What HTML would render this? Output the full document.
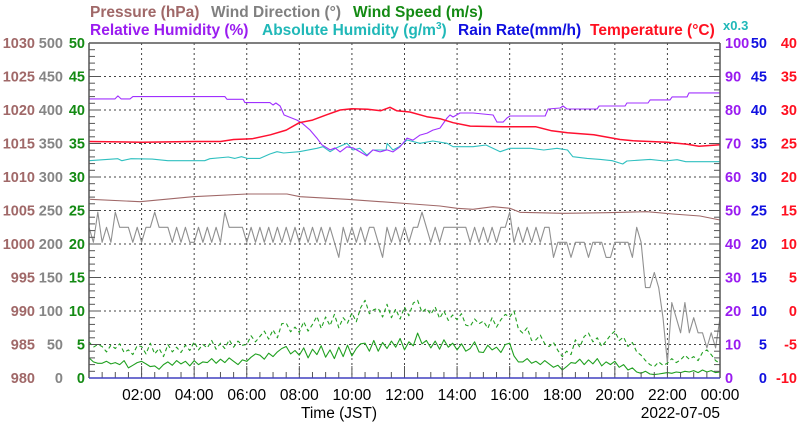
<!DOCTYPE html>
<html><head><meta charset="utf-8">
<style>
html,body{margin:0;padding:0;background:#fff;}
svg{display:block;font-family:"Liberation Sans",Arial,sans-serif;}
</style></head>
<body>
<svg id="chart" width="800" height="434" viewBox="0 0 800 434" xmlns="http://www.w3.org/2000/svg">
<g font-weight="bold" font-size="15.5">
<text x="90" y="17" fill="#a06868">Pressure (hPa)</text>
<text x="211" y="17" fill="#808080">Wind Direction (°)</text>
<text x="353" y="17" fill="#138a13">Wind Speed (m/s)</text>
<text x="90" y="35" fill="#9a1cf0">Relative Humidity (%)</text>
<text x="262" y="35" fill="#20b8b8">Absolute Humidity (g/m<tspan font-size="10" dy="-6">3</tspan><tspan dy="6">)</tspan></text>
<text x="458" y="35" fill="#1010e0">Rain Rate(mm/h)</text>
<text x="590" y="35" fill="#ff1020">Temperature (°C)</text>
<text x="723" y="30" fill="#20b8b8" font-size="13">x0.3</text>
</g>
<g id="grid"></g>
<g id="series"></g>
<g id="axes"></g>
<text x="339" y="418" font-size="15.5" text-anchor="middle" fill="#000">Time (JST)</text>
<text x="720" y="418" font-size="15.5" text-anchor="end" fill="#000">2022-07-05</text>
</svg>
<script>
// ---- data ----
const hours = [0,2,4,6,8,10,12,14,16,18,20,22,24];
const tickLabels = ["","02:00","04:00","06:00","08:00","10:00","12:00","14:00","16:00","18:00","20:00","22:00","00:00"];
const pressureTicks = [980,985,990,995,1000,1005,1010,1015,1020,1025,1030];
const dirTicks = [0,50,100,150,200,250,300,350,400,450,500];
const speedTicks = [0,5,10,15,20,25,30,35,40,45,50];
const rhTicks = [0,10,20,30,40,50,60,70,80,90,100];
const rainTicks = [0,5,10,15,20,25,30,35,40,45,50];
const tempTicks = [-10,-5,0,5,10,15,20,25,30,35,40];

const pressureT = [0.04,1.94,3.96,6.01,7.53,8.03,9.81,12.32,13.35,14.0,14.6,15.37,16.01,16.39,18.03,19.7,21.22,22.21,23.24,24];
const pressureV = [1006.67,1006.31,1007.06,1007.46,1007.46,1007.06,1006.67,1005.97,1005.67,1005.33,1005.18,1005.57,1005.33,1004.73,1004.58,1004.67,1004.82,1004.48,1004.18,1003.58];

const rhT = [0,0.99,1.1,1.22,1.56,1.67,5.17,5.25,5.86,5.93,6.88,7.0,7.11,7.27,7.42,7.91,8.1,8.41,8.67,8.86,9.17,9.36,9.55,9.81,10.04,10.31,10.57,10.8,11.07,11.34,11.56,11.83,12.1,12.32,12.59,12.86,13.08,13.35,13.62,13.73,13.85,14.11,14.61,15.37,15.52,15.75,15.9,16.01,17.35,17.46,17.92,18.03,18.18,19.32,19.4,20.39,20.46,21.26,21.34,22.1,22.18,22.75,22.82,24];
const rhV = [83.3,83.3,84.2,83.3,83.3,84.0,84.0,83.2,83.2,82.2,82.2,81.5,82.1,81.2,78.5,77.0,76.1,74.0,71.6,69.6,68.1,68.7,67.5,69.0,68.7,67.5,66.3,68.1,67.5,68.1,67.5,69.0,71.6,71.0,72.5,73.1,74.0,74.6,77.6,78.5,77.9,79.1,79.1,78.5,76.4,76.4,77.6,78.2,78.2,80.3,80.6,81.2,80.3,80.3,81.2,81.2,82.1,82.1,83.0,83.0,83.9,83.9,85.1,85.1];

const ahT = [0,1.1,1.25,1.6,2.4,3.0,4.4,4.6,5.3,5.55,5.8,6.02,6.5,6.88,7.15,7.4,8.0,8.67,8.9,9.17,9.4,9.81,10.04,10.3,10.57,10.8,11.3,11.34,11.56,11.8,12.1,12.59,13.08,13.62,13.85,14.61,15.1,15.64,16.01,16.8,17.3,17.8,18.2,18.4,18.95,19.45,19.9,20.3,20.46,21.34,21.9,22.37,22.7,24];
const ahV = [19.46,19.64,19.46,19.64,19.6,19.46,19.46,19.64,19.79,19.67,19.82,19.67,19.67,20.06,20.27,20.15,20.27,20.57,20.71,20.27,20.6,21.02,20.42,20.57,19.97,20.42,20.42,21.02,20.42,20.71,21.31,21.02,21.22,21.02,20.71,20.71,20.87,20.27,20.57,20.57,20.42,20.57,20.42,19.82,19.67,19.58,19.46,19.16,19.43,19.58,19.43,19.55,19.37,19.37];

const tempT = [0,2,4,5,5.5,6.2,6.9,7.5,8,8.5,9.05,9.55,10,10.6,11.1,11.45,11.7,12.2,12.85,13.35,13.85,14.5,15.75,17,17.6,18.2,19.2,20.2,20.7,22,22.75,23.2,24];
const tempV = [25.3,25.2,25.3,25.3,25.6,25.7,26.3,27.0,28.1,28.5,29.3,30.0,30.2,30.1,29.9,30.4,29.9,29.7,29.0,28.7,28.1,27.6,27.5,27.5,26.9,26.6,26.3,25.6,25.4,25.2,24.9,24.6,24.8];

// wind direction every 10 minutes
const windDir = [225,202.5,247.5,202.5,225,202.5,247.5,225,225,225,202.5,225,202.5,225,225,247.5,225,225,
225,202.5,225,202.5,225,202.5,202.5,225,202.5,225,202.5,225,202.5,247.5,225,225,225,225,
202.5,225,202.5,225,202.5,225,202.5,225,202.5,225,202.5,225,202.5,225,202.5,225,202.5,225,
202.5,225,202.5,180,225,202.5,225,202.5,225,202.5,225,225,202.5,180,225,202.5,225,202.5,
225,202.5,225,225,247.5,225,202.5,225,202.5,225,225,225,225,225,225,202.5,225,202.5,
225,202.5,225,202.5,225,225,247.5,202.5,225,202.5,225,202.5,225,202.5,225,225,180,202.5,
202.5,202.5,180,202.5,202.5,202.5,180,202.5,202.5,202.5,180,180,202.5,202.5,202.5,202.5,180,225,
202.5,135,135,157.5,135,90,22.5,112.5,90,67.5,112.5,67.5,90,67.5,67.5,45,67.5,45,90];

// wind speed every 10 minutes (m/s)
const windAvg = [3.0,2.4,2.2, 2.2,2.5,2.1, 2.3,2.0,2.6, 1.5,1.9,2.3, 2.5,2.1,1.7, 1.8,1.3,2.0,
2.4,1.9,2.6, 2.1,2.5,1.8, 2.6,2.0,2.4, 2.3,2.9,2.2, 2.8,2.3,3.0, 2.5,2.0,2.7,
2.5,3.1,3.6, 3.4,2.8,3.7, 3.2,3.9,4.4, 4.7,3.6,4.1, 3.4,4.5,3.0, 4.3,3.5,4.8,
3.1,4.2,2.9, 4.6,3.2,4.9, 3.3,4.4,5.1, 5.2,4.0,5.6, 4.0,5.3,4.4, 5.5,4.6,5.9,
4.2,5.4,4.8, 6.7,5.1,5.6, 4.5,5.5,4.3, 5.7,4.6,5.2, 4.2,5.1,4.0, 4.4,5.4,3.9,
3.8,4.9,4.2, 4.6,3.8,5.0, 5.2,3.3,2.4, 2.4,2.9,2.2, 2.5,2.0,2.6, 2.1,1.6,1.9,
1.2,1.7,2.3, 2.2,2.8,2.0, 2.7,2.1,2.9, 1.8,2.4,2.0, 2.5,1.6,2.0, 1.2,1.5,0.9,
0.7,1.0,0.6, 0.5,0.6,0.7, 0.8,0.7,0.9, 0.8,1.0,0.9, 1.1,0.8,1.2, 0.9,1.1,0.8, 0.9];
const windGust = [5.4,4.6,5.0, 4.7,3.9,4.9, 4.4,5.1,3.8, 4.2,3.5,4.8, 4.7,3.6,5.2, 3.6,4.4,3.2,
5.0,3.9,4.6, 3.8,4.9,4.1, 5.4,4.2,5.0, 4.5,5.6,4.3, 5.2,4.4,5.7, 4.6,5.5,4.9,
5.0,6.3,5.4, 6.2,7.0,5.8, 7.2,6.0,8.1, 8.2,6.9,7.6, 6.8,8.4,7.0, 8.0,9.2,7.4,
9.1,7.8,9.5, 7.5,9.0,8.2, 9.7,8.4,10.5, 11.6,9.6,10.2, 10.4,9.1,11.0, 9.0,10.3,8.8,
10.6,9.3,11.2, 11.6,9.8,10.4, 9.5,10.6,8.9, 10.0,8.6,9.4, 8.7,9.6,7.9, 7.7,8.8,8.1,
8.5,7.4,9.0, 7.6,8.7,9.5, 9.1,10.0,7.3, 6.7,7.5,5.6, 5.7,6.4,5.1, 4.7,5.3,4.1,
3.2,4.0,3.5, 5.7,4.6,6.2, 6.7,5.4,6.0, 4.7,5.5,6.4, 7.0,5.6,6.1, 4.7,5.3,3.9,
3.4,2.6,2.0, 1.7,2.4,1.9, 2.2,2.9,2.3, 2.7,3.4,2.8, 3.2,2.6,3.8, 4.2,3.5,2.6, 2.2];
const rainT = [0,24];
const rainV = [0,0];

// ---- layout ----
const X0=89, X1=720, Y0=378, Y1=43;
const NS="http://www.w3.org/2000/svg";
const xs = h => X0 + (X1-X0)*h/24;
const yUnit = u => Y0 - (Y0-Y1)*u/50;
const yP = v => yUnit(v-980);
const yDir = v => yUnit(v/10);
const yWs = v => yUnit(v);
const yRH = v => yUnit(v/2);
const yAH = v => yRH(v/0.3);
const yRain = v => yUnit(v);
const yT = v => yUnit(v+10);

function mk(tag, attrs, parent){
  const e=document.createElementNS(NS,tag);
  for(const k in attrs) e.setAttribute(k,attrs[k]);
  parent.appendChild(e); return e;
}
const grid=document.getElementById('grid'), ser=document.getElementById('series'), ax=document.getElementById('axes');

for(let i=1;i<10;i++){
  const y=yUnit(i*5);
  const l=mk('line',{x1:X0,x2:X1,y1:y,y2:y,stroke:'#444','stroke-width':1,'stroke-dasharray':'2,3'},grid);
  
  
}
hours.forEach(h=>{
  if(h===0||h===24) return;
  const x=xs(h);
  const l=mk('line',{x1:x,x2:x,y1:Y1,y2:Y0,stroke:'#444','stroke-width':1,'stroke-dasharray':'2,3'},grid);
  
  
});

function line(ts, vs, yf, color, name, extra){
  const pts=ts.map((t,i)=>xs(t).toFixed(1)+','+yf(vs[i]).toFixed(1)).join(' ');
  const p=mk('polyline',Object.assign({points:pts,fill:'none',stroke:color,'stroke-width':1.1,'stroke-linejoin':'round'},extra||{}),ser);
  
  
}
const t10 = windDir.map((_,i)=>i/6);
const tw = windAvg.map((_,i)=>i/6);
const tg = windGust.map((_,i)=>i/6);
line(pressureT, pressureV, yP, '#a06868', 'pressure-line');
line(t10, windDir, yDir, '#909090', 'wind-direction-line');
line(tg, windGust, yWs, '#20a020', 'wind-gust-line', {'stroke-dasharray':'4,3'});
line(tw, windAvg, yWs, '#20a020', 'wind-speed-line');
line(ahT, ahV, yAH, '#30c0c0', 'absolute-humidity-line');
line(rhT, rhV, yRH, '#a030ff', 'relative-humidity-line');
line(tempT, tempV, yT, '#ff1030', 'temperature-line', {'stroke-width':1.5});
line(rainT, rainV, yRain, '#3030d0', 'rain-rate-line');

const fr=mk('path',{d:`M${X0},${Y1}V${Y0}M${X1},${Y1}V${Y0}M${X0},${Y1}H${X1}`,stroke:'#555','stroke-width':1.5,fill:'none'},ax);


for(let u=0;u<=50;u++){
  const y=yUnit(u), major=u%5===0, len=major?11:6;
  const a=mk('line',{x1:X0,x2:X0+len,y1:y,y2:y,stroke:'#555','stroke-width':1},ax);
  
  
  const b=mk('line',{x1:X1-len,x2:X1,y1:y,y2:y,stroke:'#555','stroke-width':1},ax);
  
  
}
for(let k=0;k<=48;k++){
  const x=xs(k/2), major=k%4===0, len=major?12:6;
  const t=mk('line',{x1:x,x2:x,y1:Y0,y2:Y0-len,stroke:'#555','stroke-width':1},ax);
  
  
}
const base=mk('line',{x1:X0,x2:X1,y1:Y0,y2:Y0,stroke:'#4040c0','stroke-width':1.5},ax);



function tickText(arr, yf, x, anchor, color, name){
  arr.forEach(v=>{
    const t=mk('text',{x:x,y:yf(v)+5,'text-anchor':anchor,fill:color,'font-size':14.5,'font-weight':'bold'},ax);
    t.textContent=v;
    
    
  });
}
tickText(pressureTicks, yP, 35, 'end', '#a06868', 'pressure-tick-label');
tickText(dirTicks, yDir, 63, 'end', '#858585', 'wind-direction-tick-label');
tickText(speedTicks, yWs, 85, 'end', '#138a13', 'wind-speed-tick-label');
tickText(rhTicks, yRH, 725, 'start', '#9a1cf0', 'rh-tick-label');
tickText(rainTicks, yRain, 767, 'end', '#1010e0', 'rain-tick-label');
tickText(tempTicks, yT, 797, 'end', '#ff1020', 'temperature-tick-label');

hours.forEach((h,i)=>{
  if(!tickLabels[i]) return;
  const t=mk('text',{x:xs(h),y:400,'text-anchor':'middle',fill:'#000','font-size':15.5},ax);
  t.textContent=tickLabels[i];
  
  
});
</script>
</body></html>
